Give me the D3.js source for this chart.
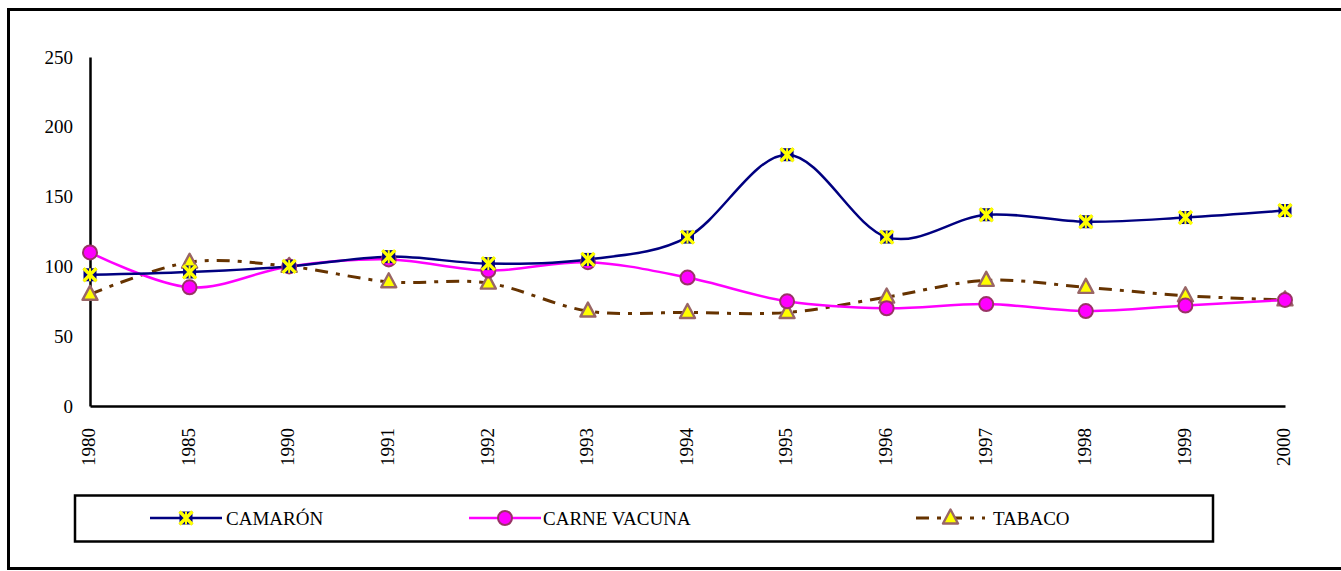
<!DOCTYPE html>
<html>
<head>
<meta charset="utf-8">
<script src="https://cdn.jsdelivr.net/npm/d3@7"></script>
<style>
  html, body { margin: 0; padding: 0; background: #fff; }
</style>
</head>
<body>
<svg id="chart" width="1341" height="571"></svg>
<script>
// Years on the category axis
const years = ["1980", "1985", "1990", "1991", "1992", "1993", "1994", "1995", "1996", "1997", "1998", "1999", "2000"];

// Index values per product
const camaron = [94, 96, 100, 107, 102, 105, 121, 180, 121, 137, 132, 135, 140];
const carneVacuna = [110, 85, 100, 105, 97, 103, 92, 75, 70, 73, 68, 72, 76];
const tabaco = [80, 103, 100, 89, 88, 68, 67, 67, 78, 90, 85, 79, 76];

// Y axis ticks
const yTicks = [0, 50, 100, 150, 200, 250];

const seriesNames = ["CAMARÓN", "CARNE VACUNA", "TABACO"];

const FONT = "'Liberation Serif', 'Times New Roman', serif";

const svg = d3.select("#chart");

// Outer frame
svg.append("rect")
  .attr("x", 8.5).attr("y", 9.5)
  .attr("width", 1345).attr("height", 559)
  .attr("fill", "none").attr("stroke", "#000").attr("stroke-width", 3);

const x = d3.scalePoint().domain(years).range([90, 1285]);
const y = d3.scaleLinear().domain([0, 250]).range([406, 57]);

// Axes
const yAxis = svg.append("g")
  .attr("transform", "translate(90,0)")
  .call(d3.axisLeft(y).tickValues(yTicks).tickSize(0).tickPadding(17));
yAxis.select(".domain").attr("stroke", "#000").attr("stroke-width", 2.5);
yAxis.selectAll("text")
  .style("font-family", FONT)
  .style("font-size", "19px")
  .attr("fill", "#000");

const xAxis = svg.append("g")
  .attr("transform", "translate(0,406)")
  .call(d3.axisBottom(x).tickSize(0).tickSizeOuter(0).tickFormat(""));
xAxis.select(".domain").attr("stroke", "#000").attr("stroke-width", 2.5);

svg.append("g").selectAll("text")
  .data(years).join("text")
  .attr("transform", d => `translate(${x(d) - 1},428) rotate(-90)`)
  .attr("text-anchor", "end")
  .attr("dy", "0.33em")
  .style("font-family", FONT)
  .style("font-size", "19px")
  .attr("fill", "#000")
  .text(d => d);

// Lines (smoothed)
const line = d3.line()
  .x((d, i) => x(years[i]))
  .y(d => y(d))
  .curve(d3.curveCatmullRom.alpha(0));

const plot = svg.append("g");

plot.append("path").datum(tabaco)
  .attr("d", line).attr("fill", "none")
  .attr("stroke", "#663300").attr("stroke-width", 3)
  .attr("stroke-dasharray", "13,8,4,8");

plot.append("path").datum(carneVacuna)
  .attr("d", line).attr("fill", "none")
  .attr("stroke", "#FF00FF").attr("stroke-width", 2.5);

plot.append("path").datum(camaron)
  .attr("d", line).attr("fill", "none")
  .attr("stroke", "#000080").attr("stroke-width", 2.5);

// Marker drawers
function starMarker(g) {
  g.append("rect").attr("x", -6.5).attr("y", -6.5).attr("width", 13).attr("height", 13).attr("fill", "#000080");
  g.append("path").attr("d", "M-6.5,-6.5L6.5,6.5M6.5,-6.5L-6.5,6.5")
    .attr("stroke", "#FFFF00").attr("stroke-width", 3.4);
  g.append("path").attr("d", "M0,-6.5L0,6.5")
    .attr("stroke", "#FFFF00").attr("stroke-width", 2);
}
function circleMarker(g) {
  g.append("circle").attr("r", 7)
    .attr("fill", "#FF00FF").attr("stroke", "#993366").attr("stroke-width", 2);
}
function triangleMarker(g) {
  g.append("path").attr("d", "M0,-8.5L7.5,5.5L-7.5,5.5Z")
    .attr("fill", "#FFFF00").attr("stroke", "#996666").attr("stroke-width", 2.4)
    .attr("stroke-linejoin", "round");
}

function drawMarkers(data, drawer) {
  plot.append("g").selectAll("g")
    .data(data).join("g")
    .attr("transform", (d, i) => `translate(${x(years[i])},${y(d)})`)
    .each(function () { drawer(d3.select(this)); });
}
drawMarkers(tabaco, triangleMarker);
drawMarkers(carneVacuna, circleMarker);
drawMarkers(camaron, starMarker);

// Legend
const legend = svg.append("g");
legend.append("rect")
  .attr("x", 75).attr("y", 495.5).attr("width", 1138).attr("height", 46)
  .attr("fill", "none").attr("stroke", "#000").attr("stroke-width", 2.5);

const legendItems = [
  { name: seriesNames[0], x1: 150, x2: 222, color: "#000080", width: 2.5, dash: null, marker: starMarker, tx: 226 },
  { name: seriesNames[1], x1: 469, x2: 541, color: "#FF00FF", width: 2.5, dash: null, marker: circleMarker, tx: 543 },
  { name: seriesNames[2], x1: 916, x2: 985, color: "#663300", width: 3, dash: "13,8,4,8", marker: triangleMarker, tx: 993 }
];
const ly = 518;
legendItems.forEach(it => {
  const g = legend.append("g");
  g.append("line")
    .attr("x1", it.x1).attr("x2", it.x2).attr("y1", ly).attr("y2", ly)
    .attr("stroke", it.color).attr("stroke-width", it.width)
    .attr("stroke-dasharray", it.dash);
  const m = g.append("g").attr("transform", `translate(${(it.x1 + it.x2) / 2},${ly})`);
  it.marker(m);
  g.append("text")
    .attr("x", it.tx).attr("y", ly).attr("dy", "0.35em")
    .style("font-family", FONT)
    .style("font-size", "19px")
    .attr("fill", "#000")
    .text(it.name);
});
</script>
</body>
</html>
